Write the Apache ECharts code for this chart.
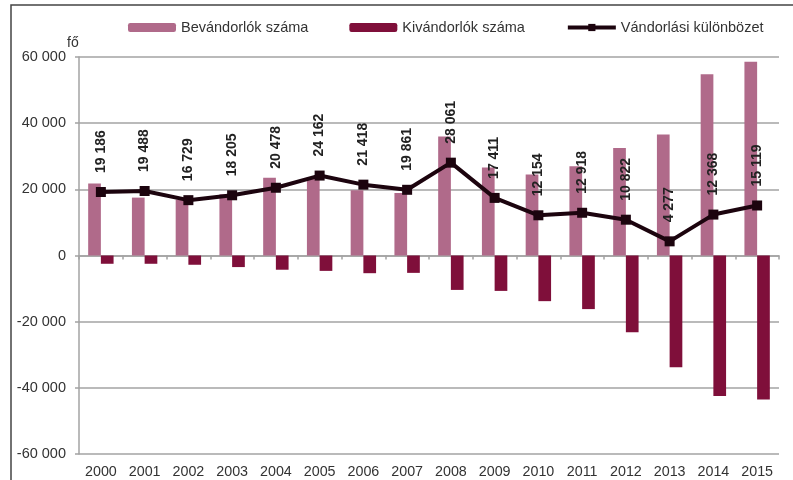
<!DOCTYPE html>
<html>
<head>
<meta charset="utf-8">
<script src="https://cdn.jsdelivr.net/npm/echarts@6/dist/echarts.min.js"></script>
<style>
  html, body { margin: 0; padding: 0; background: #fff; }
  #chart { width: 793px; height: 480px; }
</style>
</head>
<body>
<div id="chart"></div>
<script>
const years = ["2000", "2001", "2002", "2003", "2004", "2005", "2006", "2007",
  "2008", "2009", "2010", "2011", "2012", "2013", "2014", "2015"];

// Bevándorlók száma (immigrants)
const immigrants = [21800, 17500, 16900, 18500, 23500, 23700, 19700, 18900,
  36000, 26600, 24500, 27000, 32500, 36600, 54800, 58600];

// Kivándorlók száma (emigrants), drawn below zero
const emigrants = [-2500, -2500, -2800, -3500, -4300, -4650, -5350, -5250,
  -10400, -10700, -13800, -16200, -23200, -33800, -42500, -43500];

// Vándorlási különbözet (net migration), from the data labels
const netMigration = [19186, 19488, 16729, 18205, 20478, 24162, 21418, 19861,
  28061, 17411, 12154, 12918, 10822, 4277, 12368, 15119];

const FONT = "Liberation Sans";
const GRID_GRAY = "#a3a3a3";
const LINE_COLOR = "#1c040e";

// "60 000" style thousands separator
const fmt = (v) => String(v).replace(/\B(?=(\d{3})+(?!\d))/g, " ");

const chart = echarts.init(document.getElementById("chart"), null, { renderer: "canvas" });

chart.setOption({
  animation: false,
  textStyle: { fontFamily: FONT },
  grid: { left: 79, right: 14, top: 57, bottom: 26 },
  legend: {
    left: 123,
    top: 15,
    itemWidth: 48,
    itemHeight: 9,
    itemGap: 41,
    textStyle: { fontFamily: FONT, fontSize: 14.5, color: "#333" },
    data: [
      { name: "Bevándorlók száma" },
      { name: "Kivándorlók száma" },
      { name: "Vándorlási különbözet", lineStyle: { width: 4, color: LINE_COLOR } },
    ],
  },
  graphic: [
    {
      type: "rect",
      shape: { x: 11, y: 5, width: 900, height: 600 },
      style: { fill: "none", stroke: "#444", lineWidth: 1.5 },
      silent: true,
    },
    {
      type: "text",
      left: 67,
      top: 36,
      style: { text: "fő", fontFamily: FONT, fontSize: 14, fill: "#333" },
    },
  ],
  xAxis: [
    {
      type: "category",
      data: years,
      position: "bottom",
      axisLine: { onZero: true, lineStyle: { color: GRID_GRAY, width: 1.5 } },
      axisTick: { show: true, length: 4, lineStyle: { color: GRID_GRAY, width: 1.5 } },
      axisLabel: { show: false },
    },
    {
      type: "category",
      data: years,
      position: "bottom",
      axisLine: { show: false, onZero: false },
      axisTick: { show: false },
      axisLabel: { margin: 11, fontFamily: FONT, fontSize: 14.3, color: "#333" },
    },
  ],
  yAxis: {
    type: "value",
    min: -60000,
    max: 60000,
    interval: 20000,
    axisLine: { show: true, lineStyle: { color: GRID_GRAY, width: 1.5 } },
    axisTick: { show: true, length: 4, lineStyle: { color: GRID_GRAY, width: 1.5 } },
    axisLabel: { margin: 13, fontFamily: FONT, fontSize: 14.5, color: "#333", formatter: fmt },
    splitLine: { lineStyle: { color: GRID_GRAY, width: 1.5 } },
  },
  series: [
    {
      name: "Bevándorlók száma",
      type: "bar",
      xAxisIndex: 0,
      data: immigrants,
      barWidth: 12.7,
      barGap: "0%",
      itemStyle: { color: "#b06a8a" },
    },
    {
      name: "Kivándorlók száma",
      type: "bar",
      xAxisIndex: 0,
      data: emigrants,
      barWidth: 12.7,
      barGap: "0%",
      itemStyle: { color: "#7f0f3a" },
    },
    {
      name: "Vándorlási különbözet",
      type: "line",
      xAxisIndex: 0,
      data: netMigration,
      symbol: "rect",
      symbolSize: 10,
      z: 5,
      lineStyle: { color: LINE_COLOR, width: 4 },
      itemStyle: { color: LINE_COLOR },
      label: {
        show: true,
        position: "top",
        rotate: 90,
        align: "left",
        verticalAlign: "middle",
        distance: 14,
        fontFamily: FONT,
        fontSize: 14,
        fontWeight: "bold",
        color: "#222",
        formatter: (p) => fmt(p.value),
      },
    },
  ],
});
</script>
</body>
</html>
